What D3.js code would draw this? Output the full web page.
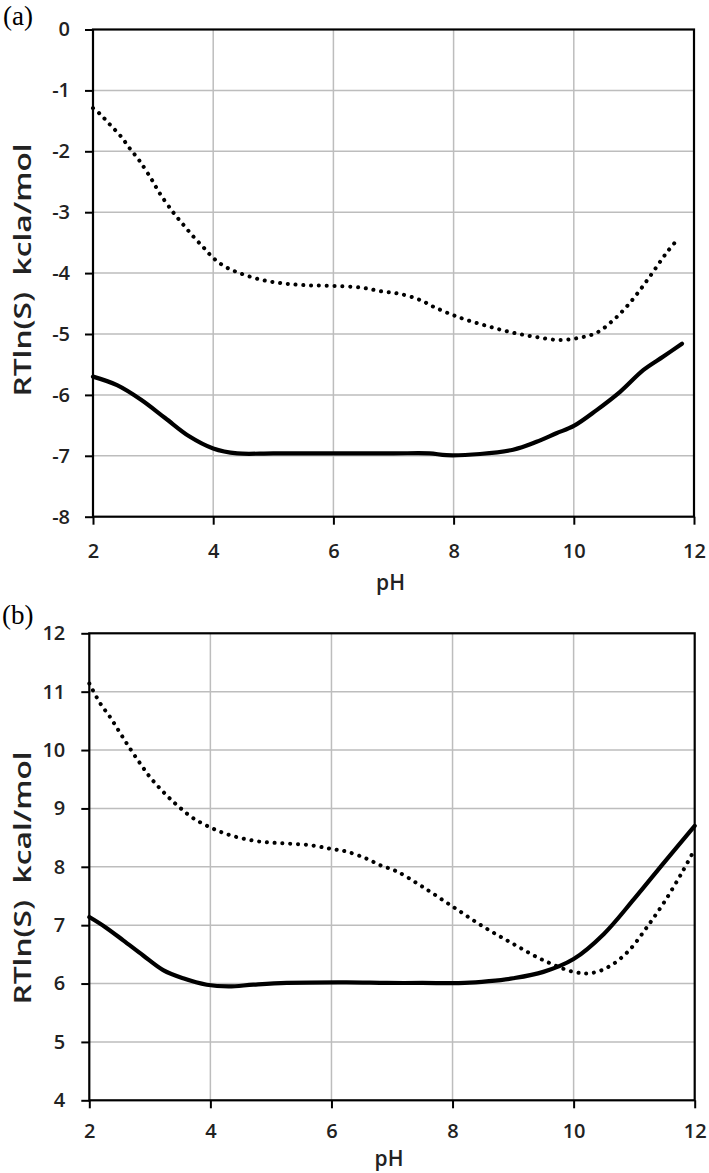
<!DOCTYPE html>
<html>
<head>
<meta charset="utf-8">
<script src="https://cdn.jsdelivr.net/npm/d3@7/dist/d3.min.js"></script>
<style>
  body { margin: 0; background: #fff; }
  svg { display: block; }
  .tick text { font-family: "Open Sans", sans-serif; font-size: 20px; font-weight: 600; fill: #222; }
</style>
</head>
<body>
<svg id="chart" width="709" height="1173"></svg>
<script>
// ---------- data ----------
const xTicks = [2, 4, 6, 8, 10, 12];
const yTicksA = [-8, -7, -6, -5, -4, -3, -2, -1, 0];
const yTicksB = [4, 5, 6, 7, 8, 9, 10, 11, 12];

// panel (a)
const dottedA = [
  [2.0, -1.29], [2.12, -1.39], [2.28, -1.56], [2.46, -1.75], [2.61, -1.95], [2.77, -2.15],
  [2.98, -2.47], [3.11, -2.69], [3.34, -3.01], [3.49, -3.19], [3.67, -3.40], [3.84, -3.58],
  [4.0, -3.75], [4.19, -3.89], [4.44, -4.00], [4.80, -4.11], [5.17, -4.17], [5.55, -4.20],
  [6.0, -4.21], [6.47, -4.24], [6.80, -4.30], [7.10, -4.34], [7.44, -4.44], [7.66, -4.55],
  [7.94, -4.67], [8.22, -4.77], [8.60, -4.88], [8.99, -4.98], [9.38, -5.05], [9.77, -5.10],
  [10.10, -5.06], [10.38, -4.98], [10.66, -4.77], [10.88, -4.55], [11.10, -4.28],
  [11.32, -3.98], [11.54, -3.67], [11.75, -3.42]
];
const solidA = [
  [2.0, -5.70], [2.4, -5.84], [2.8, -6.08], [3.2, -6.38], [3.6, -6.68], [4.0, -6.88],
  [4.4, -6.96], [5.0, -6.96], [6.0, -6.96], [7.0, -6.96], [7.6, -6.96], [7.88, -6.99],
  [8.44, -6.97], [8.99, -6.90], [9.38, -6.77], [9.71, -6.63], [10.0, -6.51], [10.38, -6.25],
  [10.77, -5.95], [11.16, -5.59], [11.49, -5.37], [11.80, -5.16]
];

// panel (b)
const dottedB = [
  [2.0, 11.14], [2.18, 10.80], [2.34, 10.57], [2.51, 10.29], [2.67, 10.03], [2.84, 9.77],
  [3.0, 9.54], [3.17, 9.34], [3.33, 9.17], [3.50, 9.01], [3.72, 8.83], [3.99, 8.68],
  [4.27, 8.56], [4.60, 8.47], [4.93, 8.42], [5.26, 8.40], [5.65, 8.37], [5.98, 8.31],
  [6.25, 8.26], [6.58, 8.14], [6.80, 8.03], [7.08, 7.92], [7.5, 7.66], [8.0, 7.32],
  [8.5, 6.98], [9.0, 6.68], [9.5, 6.40], [10.0, 6.20], [10.3, 6.18], [10.6, 6.30],
  [10.9, 6.55], [11.2, 6.95], [11.5, 7.40], [11.8, 7.92], [12.0, 8.30]
];
const solidB = [
  [2.0, 7.14], [2.26, 6.97], [2.56, 6.74], [2.89, 6.48], [3.22, 6.23], [3.55, 6.09],
  [3.94, 5.98], [4.30, 5.95], [4.71, 5.98], [5.26, 6.01], [6.25, 6.02], [6.92, 6.01],
  [7.5, 6.01], [8.2, 6.01], [8.6, 6.04], [9.0, 6.09], [9.5, 6.20], [10.0, 6.42],
  [10.5, 6.85], [11.0, 7.45], [11.5, 8.08], [12.0, 8.70]
];

// ---------- drawing ----------
const svg = d3.select("#chart");

function drawPanel(opt) {
  const x = d3.scaleLinear().domain([2, 12]).range([opt.left, opt.right]);
  const y = d3.scaleLinear().domain(opt.yDomain).range([opt.bottom, opt.top]);
  const g = svg.append("g");

  // grid
  g.append("g").selectAll("line").data(xTicks.slice(1, -1)).join("line")
    .attr("x1", d => x(d)).attr("x2", d => x(d))
    .attr("y1", opt.top).attr("y2", opt.bottom)
    .attr("stroke", "#bdbdbd").attr("stroke-width", 1.5);
  g.append("g").selectAll("line").data(opt.yTicks.slice(1, -1)).join("line")
    .attr("x1", opt.left).attr("x2", opt.right)
    .attr("y1", d => y(d)).attr("y2", d => y(d))
    .attr("stroke", "#bdbdbd").attr("stroke-width", 1.5);

  // axes
  const xAxis = d3.axisBottom(x).tickValues(xTicks).tickSize(8).tickPadding(opt.xPad).tickFormat(d3.format("d"));
  const yAxis = d3.axisLeft(y).tickValues(opt.yTicks).tickSize(8).tickPadding(opt.yPad).tickFormat(d3.format("d"));
  const gx = g.append("g").attr("transform", `translate(0,${opt.bottom})`).call(xAxis);
  const gy = g.append("g").attr("transform", `translate(${opt.left},0)`).call(yAxis);
  [gx, gy].forEach(a => {
    a.select(".domain").remove();
    a.selectAll(".tick line").attr("stroke", "#000").attr("stroke-width", 2);
  });
  gy.selectAll(".tick text").text(d => d < 0 ? "-" + Math.abs(d) : d);

  // frame
  g.append("rect").attr("x", opt.left).attr("y", opt.top)
    .attr("width", opt.right - opt.left).attr("height", opt.bottom - opt.top)
    .attr("fill", "none").attr("stroke", "#000").attr("stroke-width", 2.2);

  const line = d3.line().x(d => x(d[0])).y(d => y(d[1])).curve(d3.curveCatmullRom.alpha(0.5));

  g.append("path").datum(opt.dotted).attr("d", line)
    .attr("fill", "none").attr("stroke", "#000").attr("stroke-width", 4)
    .attr("stroke-linecap", "round").attr("stroke-dasharray", "0.1,7.7");
  g.append("path").datum(opt.solid).attr("d", line)
    .attr("fill", "none").attr("stroke", "#000").attr("stroke-width", 4.2)
    .attr("stroke-linejoin", "round").attr("stroke-linecap", "round");

  // titles
  g.append("text").attr("x", (opt.left + opt.right) / 2 - 3).attr("y", opt.pHy)
    .attr("text-anchor", "middle")
    .style("font-family", "'Open Sans', sans-serif").style("font-size", "21px").style("font-weight", "600")
    .attr("fill", "#222").text("pH");
  g.append("text")
    .attr("transform", `translate(${opt.yTitleX},${opt.yTitleY}) rotate(-90) scale(1.38,1)`)
    .attr("text-anchor", "middle")
    .style("font-family", "'Open Sans', sans-serif").style("font-size", "23px").style("font-weight", "600")
    .attr("fill", "#222").attr("xml:space", "preserve").style("white-space", "pre")
    .text(opt.yTitle);
  g.append("text").attr("x", opt.tagX).attr("y", opt.tagY)
    .style("font-family", "'Liberation Serif', 'Times New Roman', serif").style("font-size", "27px")
    .attr("fill", "#000").text(opt.tag);
}

drawPanel({
  left: 93, right: 694, top: 29.5, bottom: 516.7,
  yDomain: [-8, 0], yTicks: yTicksA, yPad: 15, xPad: 19,
  dotted: dottedA, solid: solidA, pHy: 590,
  yTitle: "RTln(S)  kcla/mol", yTitleX: 31, yTitleY: 270,
  tag: "(a)", tagX: 3, tagY: 25
});
drawPanel({
  left: 89.3, right: 694.7, top: 633.3, bottom: 1100.3,
  yDomain: [4, 12], yTicks: yTicksB, yPad: 16, xPad: 16,
  dotted: dottedB, solid: solidB, pHy: 1166,
  yTitle: "RTln(S)  kcal/mol", yTitleX: 31, yTitleY: 878,
  tag: "(b)", tagX: 2, tagY: 624
});
</script>
</body>
</html>
